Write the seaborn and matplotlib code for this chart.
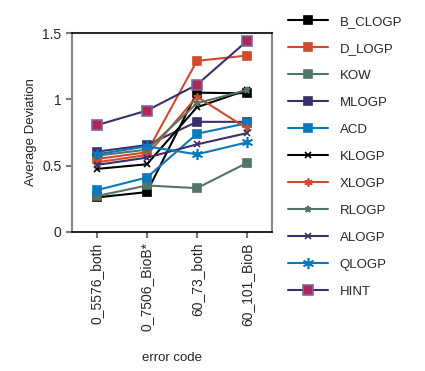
import pandas as pd
import seaborn as sns
import matplotlib.pyplot as plt

codes = ["0_5576_both", "0_7506_BioB*", "60_73_both", "60_101_BioB"]

b_clogp = [0.26, 0.30, 1.05, 1.045]
d_logp = [0.55, 0.60, 1.29, 1.33]
kow = [0.27, 0.35, 0.33, 0.52]
mlogp = [0.605, 0.655, 0.83, 0.83]
acd = [0.315, 0.41, 0.74, 0.82]
klogp = [0.475, 0.51, 0.94, 1.07]
xlogp = [0.525, 0.58, 1.02, 0.78]
rlogp = [0.575, 0.62, 0.97, 1.07]
alogp = [0.505, 0.56, 0.66, 0.745]
qlogp = [0.585, 0.645, 0.585, 0.675]
hint = [0.805, 0.915, 1.11, 1.44]

black = "#000000"
red = "#d2492c"
green = "#527565"
purple = "#3a2f6b"
blue = "#0a78bd"

series = [
    ("B_CLOGP", b_clogp, black, "s", 5.5),
    ("D_LOGP", d_logp, red, "s", 5.5),
    ("KOW", kow, green, "s", 5.5),
    ("MLOGP", mlogp, purple, "s", 5.5),
    ("ACD", acd, blue, "s", 5.5),
    ("KLOGP", klogp, black, "x", 5),
    ("XLOGP", xlogp, red, (6, 2, 0), 6),
    ("RLOGP", rlogp, green, "*", 5),
    ("ALOGP", alogp, purple, "x", 5),
    ("QLOGP", qlogp, blue, (6, 2, 0), 8),
    ("HINT", hint, purple, "s", 7),
]

sns.set_style("ticks")
plt.rcParams["font.family"] = ["Liberation Sans", "DejaVu Sans"]

fig = plt.figure(figsize=(4.25, 3.71), dpi=100)
ax = fig.add_axes([0.169, 0.375, 0.471, 0.536])

for name, vals, col, mk, ms in series:
    df = pd.DataFrame({"code": codes, "dev": vals})
    kw = dict(marker=mk, markersize=ms, color=col, linewidth=1.5,
              markeredgecolor=col, markeredgewidth=1.2)
    if name == "HINT":
        kw["markerfacecolor"] = "#b0245a"
        kw["markeredgecolor"] = "#7a6a9a"
    sns.lineplot(data=df, x="code", y="dev", sort=False, ax=ax, label=name, **kw)

ax.set_xlim(-0.5, 3.5)
ax.set_ylim(0, 1.5)
ax.set_yticks([0, 0.5, 1, 1.5])
ax.set_yticklabels(["0", "0.5", "1", "1.5"])
ax.tick_params(axis="x", rotation=90)
ax.tick_params(labelsize=10, color="#777777", width=1.5, length=4)
ax.set_xlabel("error code", fontsize=9.5, labelpad=15)
ax.set_ylabel("Average Deviation", fontsize=9.5)

for side in ["left", "right"]:
    ax.spines[side].set_color("#888888")
    ax.spines[side].set_linewidth(1.5)
for side in ["top", "bottom"]:
    ax.spines[side].set_color("black")
    ax.spines[side].set_linewidth(1.2)

ax.legend(loc="upper left", bbox_to_anchor=(1.055, 1.115), frameon=False,
          fontsize=9.5, handlelength=3.0, handletextpad=0.9, labelspacing=1.12,
          borderaxespad=0)

fig.savefig("out.png", dpi=100)
